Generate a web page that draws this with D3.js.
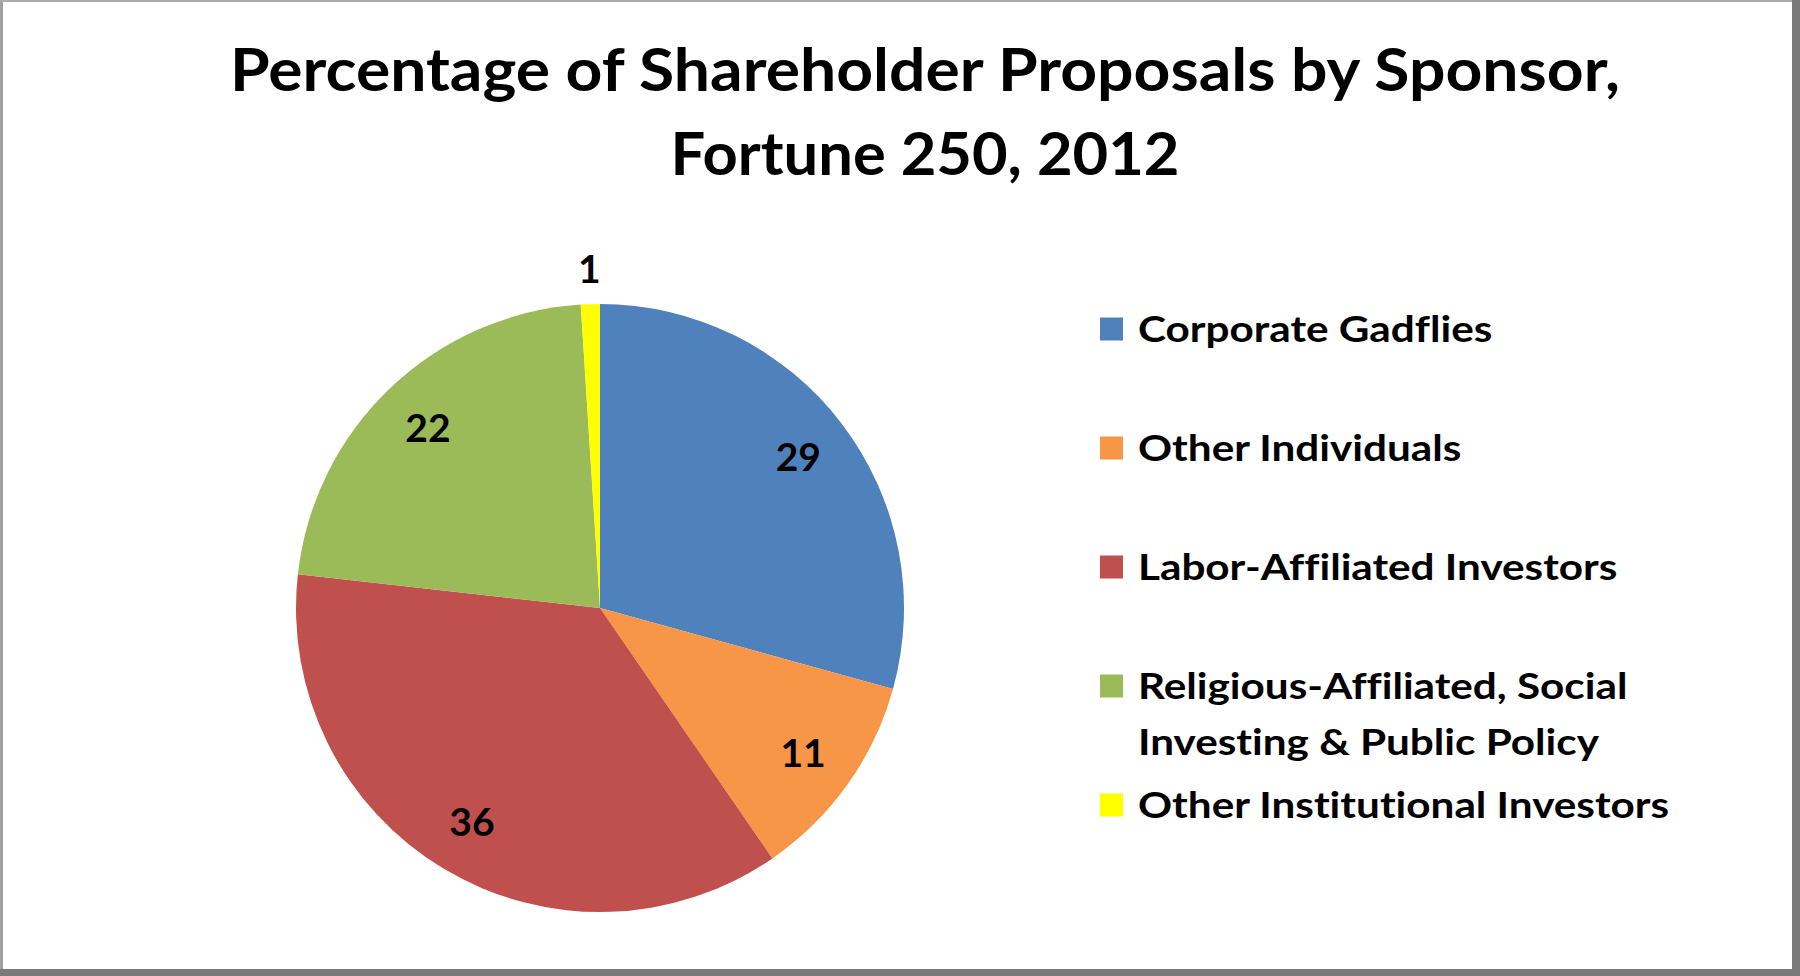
<!DOCTYPE html>
<html>
<head>
<meta charset="utf-8">
<script src="https://cdn.jsdelivr.net/npm/d3@7"></script>
<style>
  html, body { margin: 0; padding: 0; background: #fff; }
  svg { display: block; }
  text { font-variant-ligatures: none; font-feature-settings: "liga" 0, "clig" 0; }
</style>
</head>
<body>
<svg id="chart" width="1800" height="976"></svg>
<script>
// ---- data ----
const categories = [
  "Corporate Gadflies",
  "Other Individuals",
  "Labor-Affiliated Investors",
  "Religious-Affiliated, Social Investing & Public Policy",
  "Other Institutional Investors"
];
const legendLines = [
  ["Corporate Gadflies"],
  ["Other Individuals"],
  ["Labor-Affiliated Investors"],
  ["Religious-Affiliated, Social", "Investing & Public Policy"],
  ["Other Institutional Investors"]
];
const values = [29, 11, 36, 22, 1];
const colors = ["#4F81BD", "#F79646", "#C0504D", "#9BBB59", "#FFFF00"];
const titleLines = ["Percentage of Shareholder Proposals by Sponsor,", "Fortune 250, 2012"];

// ---- layout ----
const W = 1800, H = 976;
const FONT = "Lato, 'Open Sans', sans-serif";
const svg = d3.select("#chart");

// frame
svg.append("rect").attr("x", 0).attr("y", 0).attr("width", W).attr("height", H).attr("fill", "#8a8a8a");
svg.append("rect").attr("x", 3).attr("y", 2).attr("width", 1789).attr("height", 967).attr("fill", "#ffffff");
svg.append("rect").attr("x", 0).attr("y", 0).attr("width", 3).attr("height", H).attr("fill", "#a0a0a0");
svg.append("rect").attr("x", 0).attr("y", 0).attr("width", W).attr("height", 2).attr("fill", "#ababab");
svg.append("rect").attr("x", 1792).attr("y", 0).attr("width", 8).attr("height", H).attr("fill", "#7a7a7a");
svg.append("rect").attr("x", 0).attr("y", 969).attr("width", W).attr("height", 7).attr("fill", "#7a7a7a");

// title
const titleX = 925;
const titleWidths = [1390, 509];
const titleG = svg.append("g");
const tl = titleG.selectAll("text").data(titleLines).join("text")
  .attr("x", titleX)
  .attr("y", (d, i) => 91 + i * 84)
  .attr("text-anchor", "middle")
  .attr("font-family", FONT)
  .attr("font-weight", 700)
  .attr("font-size", 60)
  .attr("fill", "#000")
  .text(d => d);
tl.each(function(d, i) {
  d3.select(this).attr("textLength", titleWidths[i]).attr("lengthAdjust", "spacingAndGlyphs");
});

// pie
const cx = 600, cy = 608, R = 304;
const pie = d3.pie().sort(null).value(d => d).startAngle(0).endAngle(2 * Math.PI);
const arcs = pie(values);
const arc = d3.arc().innerRadius(0).outerRadius(R);
const g = svg.append("g").attr("transform", `translate(${cx},${cy})`);
g.selectAll("path").data(arcs).join("path")
  .attr("d", arc)
  .attr("fill", (d, i) => colors[i]);

const inLabel = d3.arc().innerRadius(R * 0.82).outerRadius(R * 0.82);
const outLabel = d3.arc().innerRadius(R + 35).outerRadius(R + 35);
g.selectAll("text.lbl").data(arcs).join("text")
  .attr("class", "lbl")
  .attr("transform", d => {
    const p = (d.data < 3 ? outLabel : inLabel).centroid(d);
    return `translate(${p[0]},${p[1]})`;
  })
  .attr("text-anchor", "middle")
  .attr("dy", "0.36em")
  .attr("font-family", FONT)
  .attr("font-weight", 700)
  .attr("font-size", 39)
  .attr("fill", "#000")
  .text(d => d.data);

// legend
const lx = 1100, ly0 = 329, lstep = 119, sq = 23, lineH = 56;
const lg = svg.append("g");
const items = lg.selectAll("g").data(categories).join("g")
  .attr("transform", (d, i) => `translate(${lx},${ly0 + i * lstep})`);
items.append("rect")
  .attr("x", 0).attr("y", -sq / 2).attr("width", sq).attr("height", sq)
  .attr("fill", (d, i) => colors[i]);
items.each(function(d, i) {
  const gi = d3.select(this);
  legendLines[i].forEach((line, j) => {
    gi.append("text")
      .attr("class", "ltxt")
      .attr("x", 38)
      .attr("y", 13 + j * lineH)
      .attr("font-family", FONT)
      .attr("font-weight", 700)
      .attr("font-size", 36)
      .attr("fill", "#000")
      .text(line);
  });
});
const allL = lg.selectAll("text.ltxt");
const refNode = allL.filter(function() { return this.textContent === "Other Institutional Investors"; }).node();
const lFactor = 531 / refNode.getComputedTextLength();
allL.each(function() {
  const n = this.getComputedTextLength();
  d3.select(this).attr("textLength", n * lFactor).attr("lengthAdjust", "spacingAndGlyphs");
});
</script>
</body>
</html>
